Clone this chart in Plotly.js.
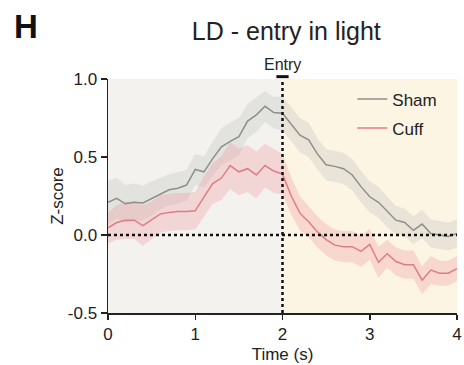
<!DOCTYPE html>
<html>
<head>
<meta charset="utf-8">
<script src="https://cdn.plot.ly/plotly-3.0.1.min.js"></script>
<style>html,body{margin:0;padding:0;background:#fff;}#chart{width:464px;height:365px;}</style>
</head>
<body>
<div id="chart"></div>
<script>
var time = [0.0,0.1,0.2,0.3,0.4,0.5,0.6,0.7,0.8,0.9,1.0,1.1,1.2,1.3,1.4,1.5,1.6,1.7,1.8,1.9,2.0,
            2.1,2.2,2.3,2.4,2.5,2.6,2.7,2.8,2.9,3.0,3.1,3.2,3.3,3.4,3.5,3.6,3.7,3.8,3.9,4.0];
var shamMean = [0.21,0.235,0.20,0.21,0.205,0.235,0.265,0.29,0.30,0.32,0.42,0.405,0.49,0.565,0.60,0.63,0.73,0.77,0.825,0.785,0.78,
                0.71,0.64,0.61,0.52,0.45,0.44,0.425,0.385,0.31,0.245,0.21,0.15,0.095,0.08,0.03,0.07,0.01,0.0,-0.01,0.01];
var shamSem = [0.14,0.13,0.12,0.12,0.11,0.11,0.10,0.10,0.10,0.10,0.10,0.10,0.11,0.12,0.12,0.12,0.11,0.11,0.10,0.10,0.11,
               0.11,0.11,0.11,0.10,0.10,0.10,0.10,0.10,0.10,0.10,0.10,0.10,0.09,0.09,0.09,0.09,0.09,0.09,0.09,0.09];
var cuffMean = [0.045,0.08,0.095,0.095,0.06,0.095,0.135,0.145,0.15,0.15,0.155,0.245,0.33,0.365,0.445,0.405,0.425,0.385,0.445,0.41,0.39,
                0.25,0.14,0.085,0.02,-0.03,-0.065,-0.075,-0.075,-0.105,-0.06,-0.175,-0.12,-0.17,-0.19,-0.19,-0.29,-0.225,-0.245,-0.245,-0.215];
var cuffSem = [0.10,0.11,0.12,0.12,0.13,0.12,0.12,0.12,0.12,0.12,0.12,0.13,0.13,0.14,0.15,0.15,0.15,0.15,0.14,0.14,0.13,
               0.12,0.11,0.10,0.10,0.10,0.10,0.10,0.10,0.10,0.10,0.10,0.09,0.09,0.09,0.09,0.09,0.09,0.08,0.08,0.08];
var seriesNames = ['Sham','Cuff'];
var xTicks = [0,1,2,3,4];
var yTicks = [-0.5,0.0,0.5,1.0];
var yTickText = ['-0.5','0.0','0.5','1.0'];

function band(mean, sem, color) {
  var up = mean.map(function(v,i){return v+sem[i];});
  var lo = mean.map(function(v,i){return v-sem[i];});
  return {
    x: time.concat(time.slice().reverse()),
    y: up.concat(lo.slice().reverse()),
    type: 'scatter', mode: 'lines', fill: 'toself',
    fillcolor: color, line: {width: 0, color: 'rgba(0,0,0,0)'},
    showlegend: false, hoverinfo: 'skip'
  };
}

var data = [
  band(shamMean, shamSem, 'rgba(190,190,185,0.30)'),
  band(cuffMean, cuffSem, 'rgba(240,150,155,0.30)'),
  {x: time, y: shamMean, type: 'scatter', mode: 'lines', name: seriesNames[0],
   line: {color: '#8e8f8a', width: 1.5}, legendgroup: 'a'},
  {x: time, y: cuffMean, type: 'scatter', mode: 'lines', name: seriesNames[1],
   line: {color: '#e07c87', width: 1.5}, legendgroup: 'b'}
];

var layout = {
  width: 464, height: 365,
  margin: {l: 108, r: 7, t: 79, b: 52},
  paper_bgcolor: '#ffffff', plot_bgcolor: '#ffffff',
  font: {family: 'Liberation Sans, Arial, sans-serif', color: '#222', size: 17},
  title: {text: 'LD - entry in light', font: {size: 25, color: '#222'},
          x: 0.617, xanchor: 'center', y: 0.915, yanchor: 'middle', yref: 'container'},
  xaxis: {range: [0, 4], tickvals: xTicks, ticktext: xTicks.map(String),
          showline: true, linecolor: '#222', linewidth: 1.5, ticks: 'outside',
          ticklen: 5, tickwidth: 1.5, tickcolor: '#222', showgrid: false, zeroline: false,
          tickfont: {size: 17},
          title: {text: 'Time (s)', font: {size: 17}, standoff: 5}},
  yaxis: {range: [-0.5, 1.0], tickvals: yTicks, ticktext: yTickText,
          showline: true, linecolor: '#222', linewidth: 1.5, ticks: 'outside',
          ticklen: 6, tickwidth: 1.5, tickcolor: '#222', showgrid: false, zeroline: false,
          tickfont: {size: 17},
          title: {text: 'Z-score', font: {size: 17}, standoff: 0}},
  showlegend: true,
  legend: {x: 0.70, y: 0.99, xanchor: 'left', yanchor: 'top', bgcolor: 'rgba(0,0,0,0)',
           font: {size: 17}, tracegroupgap: 4, itemwidth: 30},
  shapes: [
    {type: 'rect', xref: 'x', yref: 'y', x0: 0, x1: 2, y0: -0.5, y1: 1.0,
     fillcolor: '#f3f2ee', line: {width: 0}, layer: 'below'},
    {type: 'rect', xref: 'x', yref: 'y', x0: 2, x1: 4, y0: -0.5, y1: 1.0,
     fillcolor: '#fdf5e4', line: {width: 0}, layer: 'below'},
    {type: 'line', xref: 'x', yref: 'y', x0: 0, x1: 4, y0: 0, y1: 0,
     line: {color: '#111', width: 2.5, dash: 'dot'}, layer: 'above'},
    {type: 'line', xref: 'x', yref: 'y', x0: 2, x1: 2, y0: -0.5, y1: 1.0,
     line: {color: '#111', width: 2.5, dash: 'dot'}, layer: 'above'},
    {type: 'line', xref: 'x', yref: 'paper', x0: 1.93, x1: 2.07, y0: 1.01, y1: 1.01,
     line: {color: '#111', width: 3}, layer: 'above'}
  ],
  annotations: [
    {text: 'Entry', xref: 'x', yref: 'paper', x: 2, y: 1.06, xanchor: 'center', yanchor: 'middle',
     showarrow: false, font: {size: 16, color: '#222'}},
    {text: '<b>H</b>', xref: 'paper', yref: 'paper', x: -0.235, y: 1.226, xanchor: 'center', yanchor: 'middle',
     showarrow: false, font: {size: 33, color: '#111'}}
  ]
};

Plotly.newPlot('chart', data, layout, {displayModeBar: false, staticPlot: true});
</script>
</body>
</html>
